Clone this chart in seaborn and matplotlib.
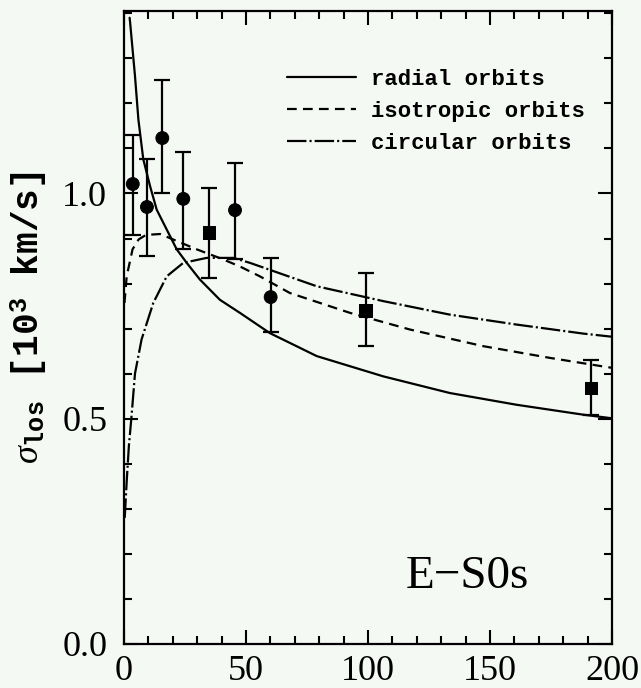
import numpy as np
import pandas as pd
import matplotlib
matplotlib.use("Agg")
import matplotlib.pyplot as plt
import seaborn as sns

# ---- data ----
radial_x = [2.3, 2.5, 4.5, 5.9, 7.9, 10.7, 13.4, 17.5, 21.6, 25.7, 31.1, 39.3, 47.5, 59.8, 79.0, 106.3, 133.6, 160.9, 188.2, 200.0]
radial_y = [1.39, 1.38, 1.261, 1.164, 1.076, 1.016, 0.964, 0.92, 0.876, 0.846, 0.809, 0.764, 0.735, 0.69, 0.639, 0.594, 0.557, 0.531, 0.509, 0.501]

iso_x = [0.2, 1.1, 3.5, 6.0, 9.0, 14.8, 23.6, 29.8, 40.0, 47.5, 55.7, 68.0, 92.6, 117.2, 147.3, 174.6, 196.4, 200.0]
iso_y = [0.757, 0.816, 0.876, 0.898, 0.908, 0.91, 0.89, 0.876, 0.855, 0.838, 0.816, 0.779, 0.735, 0.698, 0.661, 0.635, 0.616, 0.613]

circ_x = [0.3, 1.1, 2.0, 3.0, 4.5, 7.2, 12.0, 17.5, 24.3, 33.9, 44.8, 51.6, 79.0, 106.3, 133.6, 160.9, 188.2, 200.0]
circ_y = [0.28, 0.36, 0.44, 0.50, 0.60, 0.676, 0.757, 0.816, 0.846, 0.857, 0.857, 0.846, 0.794, 0.761, 0.731, 0.709, 0.689, 0.682]

pts_x = [3.6, 9.4, 15.7, 24.3, 34.8, 45.5, 60.1, 99.0, 191.4]
pts_y = [1.021, 0.970, 1.123, 0.988, 0.913, 0.963, 0.770, 0.740, 0.568]
pts_hi = [1.129, 1.076, 1.251, 1.093, 1.012, 1.068, 0.856, 0.824, 0.630]
pts_lo = [0.908, 0.862, 1.001, 0.877, 0.813, 0.855, 0.692, 0.662, 0.509]
pts_shape = ["c", "c", "c", "c", "s", "c", "c", "s", "s"]

labels = ["radial orbits", "isotropic orbits", "circular orbits"]
xticks = [0, 50, 100, 150, 200]
yticks = [0.0, 0.5, 1.0]

# ---- style ----
bg = "#f5f9f4"
sns.set_theme(style="ticks")
plt.rcParams["font.family"] = ["Liberation Serif", "DejaVu Serif"]
plt.rcParams["mathtext.fontset"] = "custom"
plt.rcParams["mathtext.rm"] = "Liberation Mono:bold"
plt.rcParams["mathtext.it"] = "Liberation Serif:italic"
plt.rcParams["mathtext.bf"] = "Liberation Mono:bold"
plt.rcParams["lines.scale_dashes"] = False

fig = plt.figure(figsize=(6.41, 6.88), dpi=100, facecolor=bg)
ax = fig.add_axes([124 / 641, 1 - 644 / 688, 488 / 641, 633 / 688])
ax.set_facecolor(bg)

lw = 1.6
df_r = pd.DataFrame({"x": radial_x, "y": radial_y})
df_i = pd.DataFrame({"x": iso_x, "y": iso_y})
df_c = pd.DataFrame({"x": circ_x, "y": circ_y})

sns.lineplot(data=df_r, x="x", y="y", ax=ax, color="black", lw=lw, sort=False,
             label=labels[0], estimator=None)
sns.lineplot(data=df_i, x="x", y="y", ax=ax, color="black", lw=lw, sort=False,
             label=labels[1], estimator=None)
sns.lineplot(data=df_c, x="x", y="y", ax=ax, color="black", lw=lw, sort=False,
             label=labels[2], estimator=None)
lines = ax.get_lines()
lines[1].set_dashes((7, 4.5))
lines[2].set_dashes((14, 2.2, 1.5, 2.2))

# error bars
yerr = np.array([np.array(pts_y) - np.array(pts_lo), np.array(pts_hi) - np.array(pts_y)])
ax.errorbar(pts_x, pts_y, yerr=yerr, fmt="none", ecolor="black", elinewidth=1.6,
            capsize=6, capthick=1.6, zorder=3)
df_p = pd.DataFrame({"x": pts_x, "y": pts_y, "shape": pts_shape})
sns.scatterplot(data=df_p, x="x", y="y", style="shape", markers={"c": "o", "s": "s"},
                color="black", s=85, edgecolor="black", ax=ax, legend=False, zorder=4)

ax.set_xlim(0, 200)
ax.set_ylim(0, 1.405)
ax.set_xticks(xticks)
ax.set_xticklabels([str(t) for t in xticks])
ax.set_yticks(yticks)
ax.set_yticklabels([f"{t:.1f}" for t in yticks])
ax.set_xticks(np.arange(0, 201, 10), minor=True)
ax.set_yticks(np.arange(0, 1.41, 0.1), minor=True)
ax.tick_params(which="both", direction="in", top=True, right=True, color="black",
               width=1.5, labelsize=26, labelcolor="black")
ax.tick_params(which="major", length=10)
ax.tick_params(which="minor", length=6)
ax.tick_params(axis="x", pad=8)
ax.tick_params(axis="y", pad=12)
for sp in ax.spines.values():
    sp.set_linewidth(1.6)
    sp.set_color("black")

ax.set_xlabel("")
ax.set_ylabel(r"$\sigma_{\rm los}$ [10$^{\rm 3}$ km/s]", fontsize=26, color="black",
              family="Liberation Mono", weight="bold")
ax.yaxis.set_label_coords(-0.152, 0.515)

ax.text(140.6, 0.149, "E\u2212S0s", fontsize=34, ha="center", va="center", color="black")

leg = ax.legend(loc="upper right", bbox_to_anchor=(0.945, 0.909), frameon=False,
                prop={"family": "Liberation Mono", "weight": "bold", "size": 16},
                handlelength=3.1, handletextpad=0.7, labelspacing=0.5, borderpad=0,
                borderaxespad=0)
for t in leg.get_texts():
    t.set_color("black")

fig.savefig("out.png", dpi=100, facecolor=bg)
